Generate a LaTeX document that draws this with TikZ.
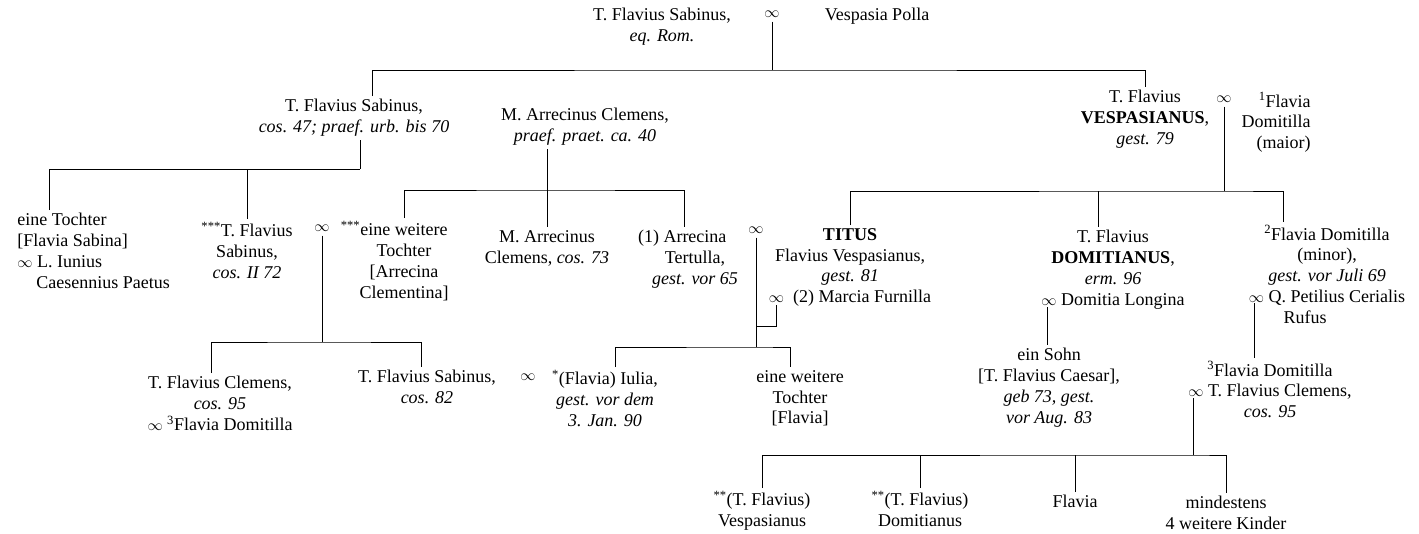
\documentclass[tikz,border=0pt]{standalone}
\usepackage{fontspec}
\setmainfont{Liberation Serif}
\usepackage{graphicx}
\usetikzlibrary{positioning, calc}
\newcommand{\ehe}{\scalebox{0.88}{$\infty$}}

\begin{document}
\begin{tikzpicture}[x=1pt, y=-1pt, line width=0.9pt,
  every node/.style={font=\fontsize{18pt}{20.8pt}\selectfont},
  person/.style={align=center, inner sep=3pt, anchor=north, yshift=10pt},
  wed/.style={inner xsep=1pt, inner ysep=4pt}]
  \useasboundingbox (0,0) rectangle (1419,533);

  \node[person] (SabinusPater) at (662,15) {T. Flavius Sabinus,\\\textit{eq. Rom.}};
  \node[wed] (WedTop) at (772,14) {\ehe};
  \node[person] (VespasiaPolla) at (877,15) {Vespasia Polla};

  \node[person] (SabinusPraef) at (354,106) {T. Flavius Sabinus,\\\textit{cos. 47; praef. urb. bis 70}};
  \node[person] (ArrecinusPraet) at (585,115) {M. Arrecinus Clemens,\\\textit{praef. praet. ca. 40}};
  \node[person] (Vespasianus) at (1145,97) {T. Flavius\\\textbf{VESPASIANUS},\\\textit{gest. 79}};
  \node[wed] (WedVesp) at (1224,99) {\ehe};
  \node[person, align=right, anchor=north east] (DomitillaMaior) at (1314,99) {\textsuperscript{1}Flavia\\Domitilla\\(maior)};

  \node[person, align=left, anchor=north west] (Tochter) at (14,220) {eine Tochter\\{[}Flavia Sabina]\\\ehe{} L. Iunius\\\hspace*{19pt}Caesennius Paetus};
  \node[person] (SabinusII) at (247,229) {\textsuperscript{***}T. Flavius\\Sabinus,\\\textit{cos. II 72}};
  \node[wed] (WedClem) at (322,228) {\ehe};
  \node[person] (Clementina) at (404,228) {\llap{\textsuperscript{***}}eine weitere\\Tochter\\{[}Arrecina\\Clementina]};
  \node[person] (ArrecinusCos) at (547,237) {M. Arrecinus\\Clemens, \textit{cos. 73}};
  \node[person] (Tertulla) at (695,237) {\llap{(1) }Arrecina\\Tertulla,\\\textit{gest. vor 65}};
  \node[wed] (WedTitus) at (756,230) {\ehe};
  \node[person] (Titus) at (850,235) {\textbf{TITUS}\\Flavius Vespasianus,\\\textit{gest. 81}\\\ehe\enspace(2) Marcia Furnilla};
  \node[person] (Domitianus) at (1113,237) {T. Flavius\\\textbf{DOMITIANUS},\\\textit{erm. 96}\\\ehe{} Domitia Longina};
  \node[person] (DomitillaMinor) at (1327,232) {\textsuperscript{2}Flavia Domitilla\\(minor),\\\textit{gest. vor Juli 69}\\\ehe{} Q. Petilius Cerialis\\Rufus\hspace*{44pt}};

  \node[person] (ClemensCos) at (220,383) {T. Flavius Clemens,\\\textit{cos. 95}\\\ehe{} \textsuperscript{3}Flavia Domitilla};
  \node[person] (SabinusCos) at (427,377) {T. Flavius Sabinus,\\\textit{cos. 82}};
  \node[wed] (WedIulia) at (528,377) {\ehe};
  \node[person] (Iulia) at (605,377) {\textsuperscript{*}(Flavia) Iulia,\\\textit{gest. vor dem}\\\textit{3. Jan. 90}};
  \node[person] (TochterFlavia) at (800,377) {eine weitere\\Tochter\\{[}Flavia]};
  \node[person] (Sohn) at (1049,355) {ein Sohn\\{[}T. Flavius Caesar],\\\textit{geb 73, gest.}\\\textit{vor Aug. 83}};
  \node[person] (DomitillaIII) at (1270,368) {\textsuperscript{3}Flavia Domitilla\\\ehe{} T. Flavius Clemens,\\\textit{cos. 95}};

  \node[person] (VespasianusIun) at (762,498) {\textsuperscript{**}(T. Flavius)\\Vespasianus};
  \node[person] (DomitianusIun) at (920,498) {\textsuperscript{**}(T. Flavius)\\Domitianus};
  \node[person] (Flavia) at (1075,502) {Flavia};
  \node[person] (Kinder) at (1226,503) {mindestens\\4 weitere Kinder};

  \coordinate (BarTop) at (772,70);
  \coordinate (BarSab) at (360,169);
  \coordinate (BarArr) at (547,190);
  \coordinate (BarClem) at (322,342);
  \coordinate (BarTitus) at (756,347);
  \coordinate (JoinTitus) at (756,326);
  \coordinate (WedFurn) at (776,305);
  \coordinate (BarVesp) at (1224,191);
  \coordinate (WedLong) at (1047,307);
  \coordinate (WedPet) at (1254,303);
  \coordinate (WedFlav) at (1193,398);
  \coordinate (BarFlav) at (1193,455);

  \draw (WedTop) -- (BarTop);
  \draw ([xshift=18pt]SabinusPraef.north) |- (BarTop) -| (Vespasianus.north);

  \draw (SabinusPraef.south -| BarSab) -- (BarSab);
  \draw ([xshift=35pt]Tochter.north west) |- (BarSab);
  \draw (SabinusII.north) -- (SabinusII.north |- BarSab);

  \draw (ArrecinusPraet.south -| ArrecinusCos.north) -- (ArrecinusCos.north);
  \draw (Clementina.north) |- (BarArr) -| ([xshift=-11pt]Tertulla.north);

  \draw (WedClem) -- (BarClem);
  \draw ([xshift=-9pt]ClemensCos.north) |- (BarClem) -| ([xshift=-6pt]SabinusCos.north);

  \draw (WedTitus) -- (BarTitus);
  \draw (WedFurn) |- (JoinTitus);
  \draw ([xshift=10pt]Iulia.north) |- (BarTitus) -| ([xshift=-10pt]TochterFlavia.north);

  \draw (WedVesp) -- (BarVesp);
  \draw (Titus.north) |- (BarVesp) -| ([xshift=-44pt]DomitillaMinor.north);
  \draw ([xshift=-15pt]Domitianus.north) -- ([xshift=-15pt]Domitianus.north |- BarVesp);

  \draw (WedLong) -- (WedLong |- Sohn.north);
  \draw (WedPet) -- (WedPet |- DomitillaIII.north);

  \draw (WedFlav) -- (BarFlav);
  \draw (VespasianusIun.north) |- (BarFlav) -| (Kinder.north);
  \draw (DomitianusIun.north) -- (DomitianusIun.north |- BarFlav);
  \draw (Flavia.north) -- (Flavia.north |- BarFlav);
\end{tikzpicture}
\end{document}
